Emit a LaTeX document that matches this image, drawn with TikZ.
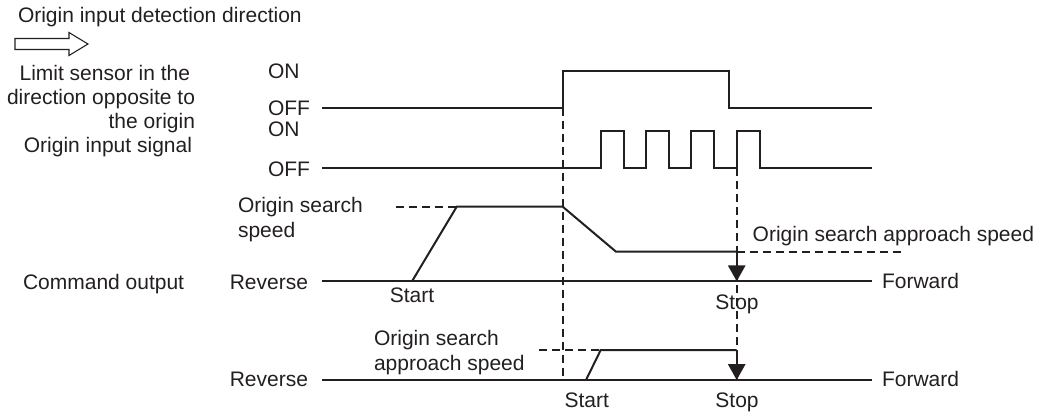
\documentclass[tikz,border=0pt]{standalone}
\usepackage{fontspec}
\setmainfont{Liberation Sans}
\usetikzlibrary{arrows.meta}
\definecolor{ink}{RGB}{35,31,32}
\begin{document}
\begin{tikzpicture}[x=0.75pt,y=-0.75pt,
  every node/.style={inner sep=0pt, outer sep=0pt, text=ink, font=\fontsize{15.75}{18}\selectfont},
  sig/.style={draw=ink, line width=1.5pt, line join=miter},
  guide/.style={draw=ink, line width=1.2pt, dash pattern=on 6pt off 3.75pt},
  stoparrow/.style={sig, -{Triangle[length=12pt,width=13pt]}},
  lw/.style={anchor=base west},
  le/.style={anchor=base east},
  lc/.style={anchor=base},
]
\useasboundingbox (0,0) rectangle (1044,414);

% key coordinates
\coordinate (x0) at (322,0);
\coordinate (xend) at (872,0);
\coordinate (dA) at (562.7,107.7);
\coordinate (dAe) at (562.7,380);
\coordinate (dB) at (736.7,168);
\coordinate (dBe) at (736.7,380);

% guide lines
\draw[guide] (dA) -- (dAe);
\draw[guide] (dB) -- (dBe);

% direction arrow
\draw[ink, line width=0.8pt, line join=miter] (15,38.5) -- (69,38.5) -- (69,32.5) -- (88,44) -- (69,55.5) -- (69,49.5) -- (15,49.5) -- cycle;

% texts
\node[lw] (title) at (18,22.5) {Origin input detection direction};
\node[le] (lim1) at (190,80) {Limit sensor in the};
\node[le] (lim2) at (195,104) {direction opposite to};
\node[le] (lim3) at (195,128) {the origin};
\node[le] (ois) at (192,152) {Origin input signal};
\node[lw] (on1) at (268,78) {ON};
\node[lw] (off1) at (268,115) {OFF};
\node[lw] (on2) at (268,136) {ON};
\node[lw] (off2) at (268,176) {OFF};
\node[lw] (cmd) at (23,289) {Command output};
\node[le] (rev1) at (308,289) {Reverse};
\node[le] (rev2) at (308,386.5) {Reverse};
\node[lw] (fwd1) at (882,288.5) {Forward};
\node[lw] (fwd2) at (882,386.5) {Forward};
\node[lw] (oss1) at (238,212) {Origin search};
\node[lw] (oss2) at (238,237) {speed};
\node[lc] (start1) at (412,302) {Start};
\node[lc] (stop1) at (737,309) {Stop};
\node[lw] (osa) at (752.7,241.7) {Origin search approach speed};
\node[lw] (osb1) at (374,345) {Origin search};
\node[lw] (osb2) at (374,370) {approach speed};
\node[lc] (start2) at (586.7,407) {Start};
\node[lc] (stop2) at (737,407) {Stop};

% limit sensor signal
\draw[sig] (322,107.7) -- (dA) -- (562.7,70.7) -- (729,70.7) -- (729,107.7) -- (872,107.7);

% origin input signal
\draw[sig] (322,168) -- (600.5,168) -- (600.5,130.7) -- (624,130.7) -- (624,168)
  -- (645.7,168) -- (645.7,130.7) -- (669,130.7) -- (669,168)
  -- (691,168) -- (691,130.7) -- (714.3,130.7) -- (714.3,168)
  -- (dB) -- (736.7,130.7) -- (760,130.7) -- (760,168) -- (872,168);

% command output
\draw[sig] (322,281.3) -- (872,281.3);
\draw[sig] (412,281.3) -- (456.7,206.7) -- (562.7,206.7) -- (616,251.7) -- (736.7,251.7);
\draw[guide] (396,206.7) -- (456.7,206.7);
\draw[guide] (736.7,251.7) -- (905,251.7);
\draw[stoparrow] (736.7,251.7) -- (736.7,281.3);

% second output
\draw[sig] (322,380) -- (872,380);
\draw[sig] (586,380) -- (600.7,350) -- (736.7,350);
\draw[guide] (539,350) -- (600.7,350);
\draw[stoparrow] (736.7,350) -- (736.7,380);
\end{tikzpicture}
\end{document}
